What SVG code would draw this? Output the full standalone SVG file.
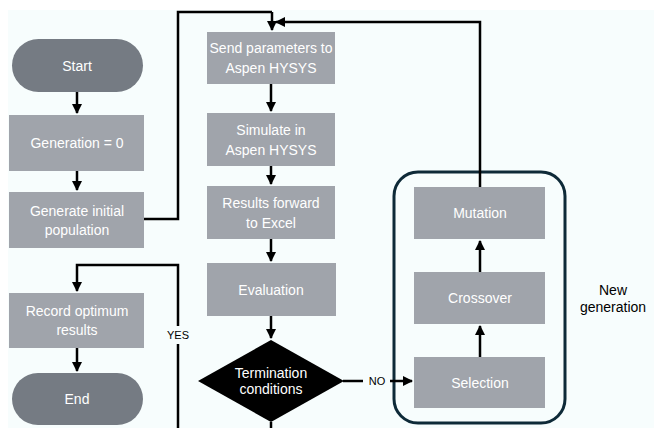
<svg xmlns="http://www.w3.org/2000/svg" width="654" height="428" viewBox="0 0 654 428">
<defs>
<marker id="ah" viewBox="0 0 10 10" refX="9" refY="5" markerWidth="4" markerHeight="4" orient="auto" markerUnits="strokeWidth"><path d="M0,0 L10,5 L0,10 z" fill="#000"/></marker>
</defs>
<style>
.t{font-family:"Liberation Sans",Arial,sans-serif;font-size:14px;fill:#fff;text-anchor:middle}
.pill{fill:#757b83}
.box{fill:#a0a4ab}
.c{fill:none;stroke:#000;stroke-width:2.5}
.a{marker-end:url(#ah)}
.lbl{font-family:"Liberation Sans",Arial,sans-serif;font-size:11px;fill:#000;text-anchor:middle}
</style>
<rect x="0" y="0" width="654" height="428" fill="#fff"/>
<rect x="8" y="10" width="646" height="418" fill="#f7fdfd"/>
<g id="group-newgen">
<rect x="394" y="172" width="171" height="251" rx="24" fill="none" stroke="#0e2a38" stroke-width="3"/>
<text class="t" x="613" y="295" style="fill:#000">New</text>
<text class="t" x="613" y="312" style="fill:#000">generation</text>
</g>
<g id="connectors">
<path class="c a" d="M77,92 V113"/>
<path class="c a" d="M77,171 V190"/>
<path class="c" d="M144,219 H178 V12 H272"/>
<path class="c a" d="M272,12 V30"/>
<path class="c a" d="M480,187 V22 H276"/>
<path class="c a" d="M271,84 V111"/>
<path class="c a" d="M271,166 V184"/>
<path class="c a" d="M271,239 V261"/>
<path class="c a" d="M271,316 V338"/>
<path class="c" d="M271,422 V428"/>
<path class="c" d="M343,381 H363"/>
<path class="c a" d="M390,381 H412"/>
<path class="c" d="M178,428 V344"/>
<path class="c a" d="M178,326 V265 H77 V291"/>
<path class="c a" d="M77,348 V371"/>
<path class="c a" d="M480,357 V326"/>
<path class="c a" d="M480,272 V241"/>
<text class="lbl" x="178" y="339">YES</text>
<text class="lbl" x="377" y="385">NO</text>
</g>
<g id="start"><rect class="pill" x="12" y="39" width="131" height="53" rx="26.5"/><text class="t" x="77" y="71">Start</text></g>
<g id="gen0"><rect class="box" x="9" y="115" width="135" height="56"/><text class="t" x="77" y="148">Generation = 0</text></g>
<g id="geninit"><rect class="box" x="9" y="192" width="135" height="56"/><text class="t" x="77" y="216">Generate initial</text><text class="t" x="77" y="235">population</text></g>
<g id="record"><rect class="box" x="9" y="293" width="135" height="55"/><text class="t" x="77" y="316">Record optimum</text><text class="t" x="77" y="335">results</text></g>
<g id="end"><rect class="pill" x="12" y="373" width="131" height="52" rx="26"/><text class="t" x="77" y="404">End</text></g>
<g id="send"><rect class="box" x="207" y="32" width="128" height="52"/><text class="t" x="271" y="53">Send parameters to</text><text class="t" x="271" y="73">Aspen HYSYS</text></g>
<g id="simulate"><rect class="box" x="207" y="113" width="128" height="53"/><text class="t" x="271" y="135">Simulate in</text><text class="t" x="271" y="155">Aspen HYSYS</text></g>
<g id="results"><rect class="box" x="207" y="186" width="128" height="53"/><text class="t" x="271" y="208">Results forward</text><text class="t" x="271" y="228">to Excel</text></g>
<g id="evaluation"><rect class="box" x="207" y="263" width="129" height="53"/><text class="t" x="271" y="295">Evaluation</text></g>
<g id="termination"><polygon points="271,340 344,381 271,422 198,381" fill="#000"/><text class="t" x="271" y="378">Termination</text><text class="t" x="271" y="394">conditions</text></g>
<g id="mutation"><rect class="box" x="414" y="187" width="131" height="52"/><text class="t" x="480" y="218">Mutation</text></g>
<g id="crossover"><rect class="box" x="414" y="272" width="131" height="52"/><text class="t" x="480" y="303">Crossover</text></g>
<g id="selection"><rect class="box" x="414" y="357" width="131" height="51"/><text class="t" x="480" y="388">Selection</text></g>
</svg>
